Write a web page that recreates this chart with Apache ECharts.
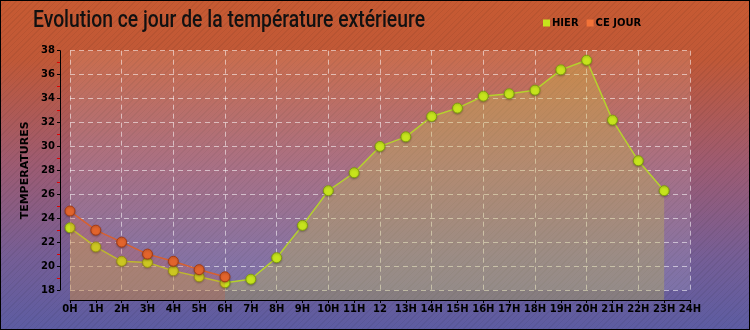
<!DOCTYPE html>
<html><head><meta charset="utf-8">
<script src="https://cdn.jsdelivr.net/npm/echarts@6/dist/echarts.min.js"></script>
<style>
html,body{margin:0;padding:0;background:#fff;}
#bg{position:absolute;left:0;top:0;width:750px;height:330px;
background:
 repeating-linear-gradient(135deg, rgba(0,0,0,0.06) 0px, rgba(0,0,0,0.06) 1px, rgba(0,0,0,0) 1px, rgba(0,0,0,0) 4px),
 linear-gradient(180deg,#c75a32 0%,#c05837 18%,#9d5b72 50%,#755e96 78%,#5c5ca2 100%);}
#chart{position:absolute;left:0;top:0;width:750px;height:330px;}
#frame{position:absolute;left:0;top:0;width:750px;height:330px;box-sizing:border-box;border:1px solid #000;pointer-events:none;}
</style></head>
<body>
<div id="bg"></div>
<div id="chart"></div>
<div id="frame"></div>
<script>
const hours = ['0H','1H','2H','3H','4H','5H','6H','7H','8H','9H','10H','11H','12','13H','14H','15H','16H','17H','18H','19H','20H','21H','22H','23H','24H'];
const hier = [23.2,21.6,20.4,20.3,19.6,19.1,18.6,18.9,20.7,23.4,26.3,27.8,30.0,30.8,32.5,33.2,34.2,34.4,34.7,36.4,37.2,32.2,28.8,26.3];
const ceJour = [24.6,23.0,22.0,21.0,20.4,19.7,19.1];
const yMin = 18, yMax = 38, yStep = 2;
const titleText = 'Evolution ce jour de la température extérieure';
const yName = 'TEMPERATURES';
const hierColor = '#c6e41c', ceJourColor = '#e2642c';

const plotTop = 50.7, plotH = 239.3, axisGap = 10;
const pxPerUnit = plotH / (yMax - yMin);
const yMinB = yMin - axisGap / pxPerUnit;

const titleFont = '500 23px Roboto';
const titleWidth = 392;
const cv = document.createElement('canvas').getContext('2d');
cv.font = titleFont;
const titleScale = titleWidth / cv.measureText(titleText).width;

const lblFont = {color:'#000', fontSize:10, fontWeight:'bold', fontFamily:'DejaVu Sans'};
const dash = {color:'rgba(255,255,255,0.55)', type:[5,4], width:1};

const chart = echarts.init(document.getElementById('chart'), null, {renderer:'canvas'});
chart.setOption({
  backgroundColor:'transparent',
  animation:false,
  graphic:[{type:'text', x:33, y:10, scaleX:titleScale, silent:true,
    style:{text:titleText, font:titleFont, fill:'#111', textVerticalAlign:'top', textAlign:'left'}}],
  legend:{data:[{name:'HIER', itemStyle:{color:hierColor, borderWidth:0}}, {name:'CE JOUR', itemStyle:{color:'#f27238', borderWidth:0}}],
    left:538, top:13, icon:'rect', itemWidth:7, itemHeight:7, itemGap:8,
    textStyle:Object.assign({}, lblFont, {padding:[0,0,0,-3]})},
  grid:[
    {left:70, right:60, top:plotTop, height:plotH, show:true, backgroundColor:'rgba(255,255,255,0.13)', borderWidth:0},
    {left:70, right:60, top:plotTop, height:plotH + axisGap, show:false}
  ],
  xAxis:[
    {gridIndex:0, type:'category', data:hours, boundaryGap:false, axisLine:{show:false}, axisTick:{show:false}, axisLabel:{show:false},
     splitLine:{show:true, lineStyle:dash}},
    {gridIndex:1, type:'category', data:hours, boundaryGap:false,
     axisLine:{show:true, lineStyle:{color:'#000', width:1}},
     axisTick:{show:true, length:3, lineStyle:{color:'#000'}},
     axisLabel:Object.assign({}, lblFont, {margin:4, interval:0}),
     splitLine:{show:false}}
  ],
  yAxis:[
    {gridIndex:0, type:'value', min:yMin, max:yMax, interval:yStep, offset:axisGap,
     name:yName, nameLocation:'middle', nameGap:15, nameRotate:90,
     nameTextStyle:Object.assign({}, lblFont, {fontSize:11}),
     axisLine:{show:true, lineStyle:{color:'#000', width:1}},
     axisTick:{show:true, length:3, lineStyle:{color:'#000'}},
     minorTick:{show:true, splitNumber:2, length:3, lineStyle:{color:'#e00000'}},
     axisLabel:Object.assign({}, lblFont, {margin:5}),
     splitLine:{show:true, lineStyle:dash}},
    {gridIndex:1, type:'value', min:yMinB, max:yMax, show:false, splitLine:{show:false}}
  ],
  series:[
    {name:'HIER', type:'line', xAxisIndex:1, yAxisIndex:1, data:hier, symbol:'circle', symbolSize:10,
     lineStyle:{color:'#b5d22c', width:1.5},
     itemStyle:{color:hierColor, borderColor:'#7f9a10', borderWidth:1, shadowColor:'rgba(0,0,0,0.25)', shadowBlur:2, shadowOffsetY:1},
     areaStyle:{color:'rgba(200,195,70,0.45)', origin:'start'}, z:2},
    {name:'CE JOUR', type:'line', xAxisIndex:1, yAxisIndex:1, data:ceJour, symbol:'circle', symbolSize:10,
     lineStyle:{color:'#d8602e', width:1.5},
     itemStyle:{color:ceJourColor, borderColor:'#a23a16', borderWidth:1, shadowColor:'rgba(0,0,0,0.25)', shadowBlur:2, shadowOffsetY:1},
     areaStyle:{color:'rgba(225,90,50,0.3)', origin:'start'}, z:3}
  ]
});
</script>
</body></html>
